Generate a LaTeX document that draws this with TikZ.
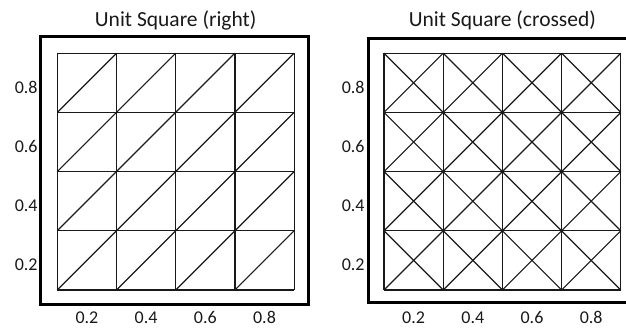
\documentclass[tikz,border=0pt]{standalone}
\usepackage{fontspec}
\setmainfont{Carlito}
\tikzset{
  frame/.style={line width=3pt, black},
  mesh/.style={line width=1.2pt, black!90},
  ttl/.style={font=\fontsize{21.5}{24}\selectfont, anchor=base, text=black!90},
  tick/.style={font=\fontsize{18}{20}\selectfont, text=black!90, inner sep=0pt},
}
\begin{document}
\begin{tikzpicture}[x=1pt,y=1pt]
\useasboundingbox (0,0) rectangle (626,328);
\clip (0,0) rectangle (626,328);
% ---------- left panel ----------
\begin{scope}[shift={(27.7,8.4)}, x=296pt, y=296pt]
  \draw[frame] (0.043,0.051) rectangle (0.947,0.955);
  \foreach \i in {0,...,4} {
    \draw[mesh] (0.1+0.2*\i,0.1) -- (0.1+0.2*\i,0.9);
    \draw[mesh] (0.1,0.1+0.2*\i) -- (0.9,0.1+0.2*\i);
  }
  \foreach \i in {0,...,3} \foreach \j in {0,...,3}
    \draw[mesh] (0.1+0.2*\i,0.1+0.2*\j) -- (0.3+0.2*\i,0.3+0.2*\j);
  \foreach \v in {0.2,0.4,0.6,0.8} {
    \node[tick, anchor=base] (lx\v) at (\v,-0.012) {\v};
    \node[tick, anchor=east] (ly\v) at (0.034,\v-0.015) {\v};
  }
  \node[ttl] (lt) at (0.5,0.99) {Unit Square (right)};
\end{scope}
% ---------- right panel ----------
\begin{scope}[shift={(354.4,8.4)}, x=296pt, y=296pt]
  \draw[frame] (0.046,0.059) rectangle (0.955,0.949);
  \foreach \i in {0,...,4} {
    \draw[mesh] (0.1+0.2*\i,0.1) -- (0.1+0.2*\i,0.9);
    \draw[mesh] (0.1,0.1+0.2*\i) -- (0.9,0.1+0.2*\i);
  }
  \foreach \i in {0,...,3} \foreach \j in {0,...,3} {
    \draw[mesh] (0.1+0.2*\i,0.1+0.2*\j) -- (0.3+0.2*\i,0.3+0.2*\j);
    \draw[mesh] (0.1+0.2*\i,0.3+0.2*\j) -- (0.3+0.2*\i,0.1+0.2*\j);
  }
  \foreach \v in {0.2,0.4,0.6,0.8} {
    \node[tick, anchor=base] (rx\v) at (\v,-0.012) {\v};
    \node[tick, anchor=east] (ry\v) at (0.035,\v-0.015) {\v};
  }
  \node[ttl] (rt) at (0.5,0.99) {Unit Square (crossed)};
\end{scope}
\end{tikzpicture}
\end{document}
